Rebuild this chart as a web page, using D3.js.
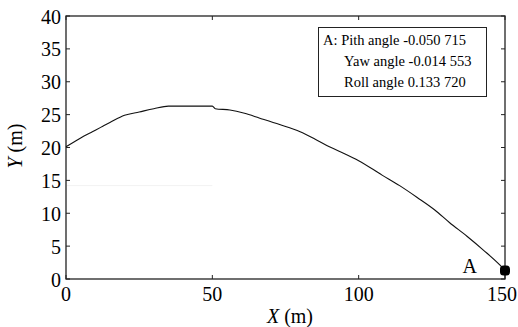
<!DOCTYPE html>
<html>
<head>
<meta charset="utf-8">
<script src="https://cdn.jsdelivr.net/npm/d3@7"></script>
<style>
  body { margin: 0; background: #fff; }
  svg { display: block; font-family: "Liberation Serif", "Times New Roman", serif; }
</style>
</head>
<body>
<svg width="518" height="327"></svg>
<script>
// trajectory
const trajX = [0, 3, 6, 9, 12, 15, 20, 25, 30, 35, 50, 51, 56, 61, 66, 73, 80, 85, 90, 95, 100, 108, 114, 120, 126, 131, 137, 142.6, 148.3, 150];
const trajY = [20.1, 20.9, 21.7, 22.4, 23.1, 23.8, 24.9, 25.4, 25.9, 26.3, 26.3, 25.9, 25.7, 25.2, 24.5, 23.5, 22.4, 21.3, 20.1, 19.1, 18.0, 15.8, 14.2, 12.4, 10.5, 8.6, 6.5, 4.4, 2.1, 1.3];
const pointA = { x: 150, y: 1.3, label: "A" };
const xTicks = [0, 50, 100, 150];
const yTicks = [0, 5, 10, 15, 20, 25, 30, 35, 40];
const legendLines = ["A: Pith angle -0.050 715", "Yaw angle -0.014 553", "Roll angle 0.133 720"];

const margin = { left: 66, right: 13, top: 16, bottom: 48 };
const W = 518, H = 327;
const svg = d3.select("svg");

const x = d3.scaleLinear().domain([0, 150]).range([margin.left, W - margin.right]);
const y = d3.scaleLinear().domain([0, 40]).range([H - margin.bottom, margin.top]);

const tickLen = 4;

// frame
svg.append("rect")
  .attr("x", x(0)).attr("y", y(40))
  .attr("width", x(150) - x(0)).attr("height", y(0) - y(40))
  .attr("fill", "none").attr("stroke", "#222").attr("stroke-width", 1.3);

// inward ticks on all sides
const g = svg.append("g").attr("stroke", "#222").attr("stroke-width", 1);
xTicks.forEach((t) => {
  g.append("line").attr("x1", x(t)).attr("x2", x(t)).attr("y1", y(0)).attr("y2", y(0) - tickLen);
  g.append("line").attr("x1", x(t)).attr("x2", x(t)).attr("y1", y(40)).attr("y2", y(40) + tickLen);
});
yTicks.forEach((t) => {
  g.append("line").attr("x1", x(0)).attr("x2", x(0) + tickLen).attr("y1", y(t)).attr("y2", y(t));
  g.append("line").attr("x1", x(150)).attr("x2", x(150) - tickLen).attr("y1", y(t)).attr("y2", y(t));
});

// tick labels (last one kept inside the window edge)
svg.append("g").selectAll("text").data(xTicks).join("text")
  .attr("x", (d) => Math.min(x(d), W - 16)).attr("y", y(0) + 21.5)
  .attr("text-anchor", "middle").attr("font-size", 20)
  .text((d) => d);
svg.append("g").selectAll("text").data(yTicks).join("text")
  .attr("x", x(0) - 5).attr("y", (d) => y(d) + 7.5)
  .attr("text-anchor", "end").attr("font-size", 20)
  .text((d) => d);

// axis titles
const xt = svg.append("text").attr("x", 290).attr("y", 323).attr("text-anchor", "middle").attr("font-size", 20);
xt.append("tspan").attr("font-style", "italic").text("X");
xt.append("tspan").text(" (m)");
const yt = svg.append("text").attr("transform", "translate(22,146) rotate(-90)").attr("text-anchor", "middle").attr("font-size", 20);
yt.append("tspan").attr("font-style", "italic").text("Y");
yt.append("tspan").text(" (m)");

// faint artefact line
svg.append("line").attr("x1", x(0) + 1).attr("x2", x(50)).attr("y1", y(14.2)).attr("y2", y(14.2))
  .attr("stroke", "#f2f2f2").attr("stroke-width", 1);

// trajectory
const line = d3.line().x((d) => x(d[0])).y((d) => y(d[1])).curve(d3.curveMonotoneX);
svg.append("path")
  .datum(trajX.map((v, i) => [v, trajY[i]]))
  .attr("d", line)
  .attr("fill", "none").attr("stroke", "#111").attr("stroke-width", 1.1);

// point A
svg.append("rect")
  .attr("x", x(pointA.x) - 5).attr("y", y(pointA.y) - 5)
  .attr("width", 10).attr("height", 10).attr("rx", 3.5)
  .attr("fill", "#000");
svg.append("text").attr("x", x(pointA.x) - 28).attr("y", y(pointA.y) + 2.5)
  .attr("text-anchor", "end").attr("font-size", 20).text(pointA.label);

// legend box
svg.append("rect").attr("x", 318.5).attr("y", 27.5).attr("width", 168).attr("height", 69)
  .attr("fill", "#fff").attr("stroke", "#222").attr("stroke-width", 1);
svg.append("g").selectAll("text").data(legendLines).join("text")
  .attr("x", (d, i) => (i === 0 ? 323 : 344))
  .attr("y", (d, i) => 45 + i * 20.8)
  .attr("font-size", 14.5)
  .text((d) => d);
</script>
</body>
</html>
